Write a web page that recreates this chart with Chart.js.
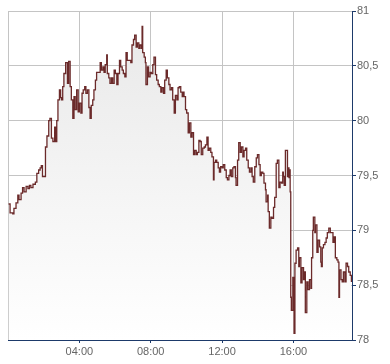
<!DOCTYPE html>
<html>
<head>
<meta charset="utf-8">
<script src="https://cdn.jsdelivr.net/npm/chart.js@4/dist/chart.umd.min.js"></script>
<style>
html,body{margin:0;padding:0;background:#fff;}
#wrap{width:390px;height:364px;}
</style>
</head>
<body>
<div id="wrap"><canvas id="c" width="390" height="364"></canvas></div>
<script>
// minutes since 00:00
const times = [2,7,16,20,27,33,37,44,49,54,61,67,72,77,84,92,97,103,108,112,116,123,126,131,137,141,146,151,157,160,164,168,173,177,180,184,
188,194,200,204,209,213,218,222,226,231,236,240,245,249,253,258,262,267,272,276,280,285,289,294,298,305,310,314,319,323,327,332,334,339,343,348,352,357,361,366,370,375,379,384,388,393,397,401,
406,413,417,422,426,431,435,440,444,449,451,453,458,462,464,469,473,478,482,487,491,496,500,505,509,514,518,523,527,532,536,541,545,550,554,559,563,568,572,576,581,586,590,
592,597,601,606,610,615,619,624,628,633,637,642,646,650,655,660,664,669,673,677,682,686,691,693,698,702,707,711,715,720,724,729,734,738,743,747,751,756,760,765,767,772,776,781,785,790,794,
799,803,808,812,817,821,825,830,835,839,844,848,852,857,861,866,868,873,875,879,884,888,893,897,902,906,911,915,920,924,926,929,933,938,940,942,945,947,949,951,953,958,962,965,
969,974,978,980,985,989,994,998,1000,1005,1009,1014,1019,1021,1025,1027,1032,1034,1039,1043,1048,1052,1054,1057,1061,1066,1070,1074,1079,1084,1088,1093,1097,1101,1106,1110,1113,1115,1120,1124,1128,1133,1137,1142,1146,1151,1155];
const prices = [79.24,79.16,79.15,79.20,79.25,79.32,79.28,79.34,79.39,79.35,79.40,79.38,79.41,79.39,79.42,79.44,79.52,79.55,79.57,79.59,79.49,79.49,79.76,79.86,80.00,80.02,79.84,79.81,79.94,79.81,80.00,80.19,80.28,80.21,80.19,80.31,
80.43,80.53,80.34,80.54,80.31,80.19,80.02,80.22,80.10,80.28,80.08,80.16,80.07,80.25,80.28,80.31,80.25,80.28,80.12,80.02,80.14,80.19,80.28,80.37,80.44,80.44,80.53,80.46,80.49,80.44,80.51,80.60,80.43,80.39,80.34,80.39,80.34,80.46,80.43,80.33,80.43,80.55,80.49,80.46,80.43,80.40,80.62,80.55,
80.55,80.53,80.69,80.74,80.78,80.67,80.71,80.66,80.69,80.66,80.86,80.62,80.58,80.53,80.33,80.49,80.40,80.44,80.43,80.51,80.58,80.42,80.37,80.33,80.31,80.26,80.30,80.25,80.37,80.46,80.39,80.33,80.28,80.30,80.19,80.07,80.23,80.19,80.30,80.31,80.26,80.22,80.26,
80.22,80.10,80.07,79.89,79.98,79.85,79.89,79.69,79.73,79.69,79.71,79.82,79.81,79.69,79.75,79.76,79.78,79.85,79.73,79.75,79.71,79.67,79.46,79.62,79.64,79.62,79.57,79.53,79.58,79.57,79.60,79.55,79.48,79.46,79.50,79.55,79.49,79.57,79.58,79.48,79.41,79.64,79.80,79.71,79.76,79.67,79.73,
79.75,79.64,79.57,79.53,79.57,79.49,79.44,79.58,79.66,79.69,79.60,79.50,79.53,79.52,79.43,79.37,79.26,79.32,79.17,79.02,79.12,79.11,79.21,79.30,79.61,79.64,79.39,79.44,79.43,79.53,79.49,79.41,79.73,79.73,79.49,79.57,79.48,79.55,79.35,78.39,78.27,78.57,78.06,78.70,
78.82,78.84,78.67,78.75,78.52,78.66,78.55,78.62,78.25,78.53,78.46,78.55,78.47,78.75,79.00,79.12,78.98,79.05,78.80,78.91,78.85,78.71,78.67,78.84,78.87,78.89,78.93,78.98,79.02,78.98,78.98,78.89,78.94,78.75,78.73,78.71,78.39,78.64,78.55,78.53,78.62,78.53,78.70,78.67,78.62,78.59,78.53];
const xTicks = [0,240,480,720,960];
const xTickLabels = ['','04:00','08:00','12:00','16:00'];
const yTicks = [78,78.5,79,79.5,80,80.5,81];
const xMax = 1157;

const points = times.map((t,i)=>({x:t,y:prices[i]}));
const axisBlue = '#1d3a6a';
const gridGray = '#c4c4c4';

new Chart(document.getElementById('c'), {
  type: 'line',
  data: {
    datasets: [{
      data: points,
      borderColor: '#6b2a2a',
      borderWidth: 1.3,
      pointRadius: 0,
      stepped: true,
      fill: 'start',
      backgroundColor: (ctx) => {
        const ca = ctx.chart.chartArea;
        if (!ca) return '#eeeeee';
        const g = ctx.chart.ctx.createLinearGradient(0, ca.top, 0, ca.bottom);
        g.addColorStop(0, '#e8e8e8');
        g.addColorStop(1, '#ffffff');
        return g;
      }
    }]
  },
  options: {
    responsive: false,
    animation: false,
    events: [],
    layout: { padding: { top: 11, left: 8, right: 0, bottom: 0 } },
    plugins: { legend: { display: false }, tooltip: { enabled: false } },
    scales: {
      x: {
        type: 'linear',
        min: 0,
        max: xMax,
        afterBuildTicks: (s) => { s.ticks = xTicks.map(v => ({ value: v })); },
        afterFit: (s) => { s.height = 24; },
        grid: {
          color: gridGray,
          tickColor: (c) => (c.tick && c.tick.value === 0) ? 'rgba(0,0,0,0)' : axisBlue,
          tickLength: 3,
          lineWidth: 1
        },
        border: { color: axisBlue, width: 1 },
        ticks: {
          color: '#666',
          font: { family: 'Liberation Sans, Arial, sans-serif', size: 11 },
          padding: 2,
          maxRotation: 0,
          autoSkip: false,
          callback: (v) => { const i = xTicks.indexOf(v); return i >= 0 ? xTickLabels[i] : ''; }
        }
      },
      y: {
        position: 'right',
        min: 78,
        max: 81,
        afterBuildTicks: (s) => { s.ticks = yTicks.map(v => ({ value: v })); },
        afterFit: (s) => { s.width = 38; },
        grid: { color: gridGray, tickColor: axisBlue, tickLength: 4, lineWidth: 1 },
        border: { color: axisBlue, width: 1 },
        ticks: {
          color: '#666',
          font: { family: 'Liberation Sans, Arial, sans-serif', size: 11 },
          padding: 1,
          callback: (v) => String(v).replace('.', ',')
        }
      }
    }
  }
});
</script>
</body>
</html>
